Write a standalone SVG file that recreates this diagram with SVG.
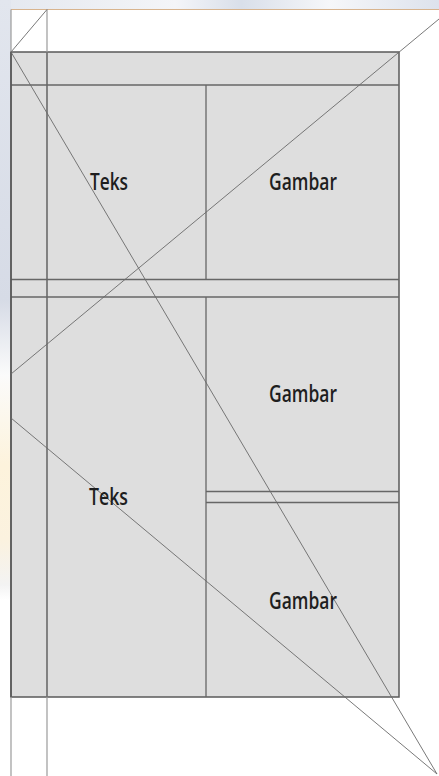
<svg xmlns="http://www.w3.org/2000/svg" width="439" height="776" viewBox="0 0 439 776">
<defs>
<linearGradient id="topbg" x1="0" y1="0" x2="1" y2="0">
<stop offset="0" stop-color="#e4e8ef"/><stop offset="0.4" stop-color="#f4f5f8"/><stop offset="0.55" stop-color="#d9dfea"/><stop offset="0.75" stop-color="#f6f7f9"/><stop offset="1" stop-color="#dde2ec"/>
</linearGradient>
<linearGradient id="leftbg" x1="0" y1="0" x2="0" y2="1">
<stop offset="0" stop-color="#e2e6ee"/><stop offset="0.4" stop-color="#d6dbe6"/><stop offset="0.5" stop-color="#fbfbfb"/><stop offset="0.62" stop-color="#fdf3dc"/><stop offset="0.72" stop-color="#fbf2df"/><stop offset="0.78" stop-color="#f3f3f3"/><stop offset="0.8" stop-color="#ffffff"/><stop offset="1" stop-color="#ffffff"/>
</linearGradient>
<style>
.frame{fill:#dedede;stroke:#5a5a5a;stroke-width:1.5}
.div{stroke:#666;stroke-width:1.3;fill:none}
.diag{stroke:#6a6a6a;stroke-width:0.9;fill:none}
.guide{stroke:#9a9a9a;stroke-width:1.2;fill:none}
.lbl{font-family:"Open Sans","Liberation Sans",sans-serif;font-weight:600;font-size:23px;fill:#1e1e1e}
</style>
</defs>
<rect x="0" y="0" width="439" height="776" fill="#ffffff"/>
<rect x="0" y="0" width="439" height="10" fill="url(#topbg)"/>
<rect x="0" y="0" width="11" height="750" fill="url(#leftbg)"/>
<g id="frame">
<rect class="frame" x="11" y="52" width="388" height="645"/>
</g>
<g id="guides">
<line x1="11" y1="9.5" x2="439" y2="9.5" stroke="#d8b48e" stroke-width="1"/>
<line class="guide" x1="11" y1="9.5" x2="11" y2="776"/>
<line class="guide" x1="47" y1="9.5" x2="47" y2="776"/>
<line class="div" x1="47" y1="52" x2="47" y2="697"/>
<line class="div" x1="11" y1="85" x2="399" y2="85"/>
<line class="div" x1="206" y1="85" x2="206" y2="279.5"/>
<line class="div" x1="206" y1="297" x2="206" y2="697"/>
<line class="div" x1="11" y1="279.5" x2="399" y2="279.5"/>
<line class="div" x1="11" y1="297" x2="399" y2="297"/>
<line class="div" x1="206" y1="491.5" x2="399" y2="491.5"/>
<line class="div" x1="206" y1="502.5" x2="399" y2="502.5"/>
<line stroke="#555" stroke-width="1.5" x1="11" y1="52" x2="11" y2="697"/>
</g>
<g id="connectors">
<line class="diag" x1="11" y1="52" x2="47" y2="9.5"/>
<line class="diag" x1="11" y1="52" x2="437" y2="774"/>
<line class="diag" x1="439" y1="19" x2="11" y2="374"/>
<line class="diag" x1="11" y1="418" x2="437" y2="774"/>
</g>
<g id="teks1"><text class="lbl" x="90" y="190" textLength="38" lengthAdjust="spacingAndGlyphs">Teks</text></g>
<g id="gambar1"><text class="lbl" x="269" y="190" textLength="68" lengthAdjust="spacingAndGlyphs">Gambar</text></g>
<g id="gambar2"><text class="lbl" x="269" y="402" textLength="68" lengthAdjust="spacingAndGlyphs">Gambar</text></g>
<g id="teks2"><text class="lbl" x="89" y="505" textLength="39" lengthAdjust="spacingAndGlyphs">Teks</text></g>
<g id="gambar3"><text class="lbl" x="269" y="609" textLength="68" lengthAdjust="spacingAndGlyphs">Gambar</text></g>
</svg>
